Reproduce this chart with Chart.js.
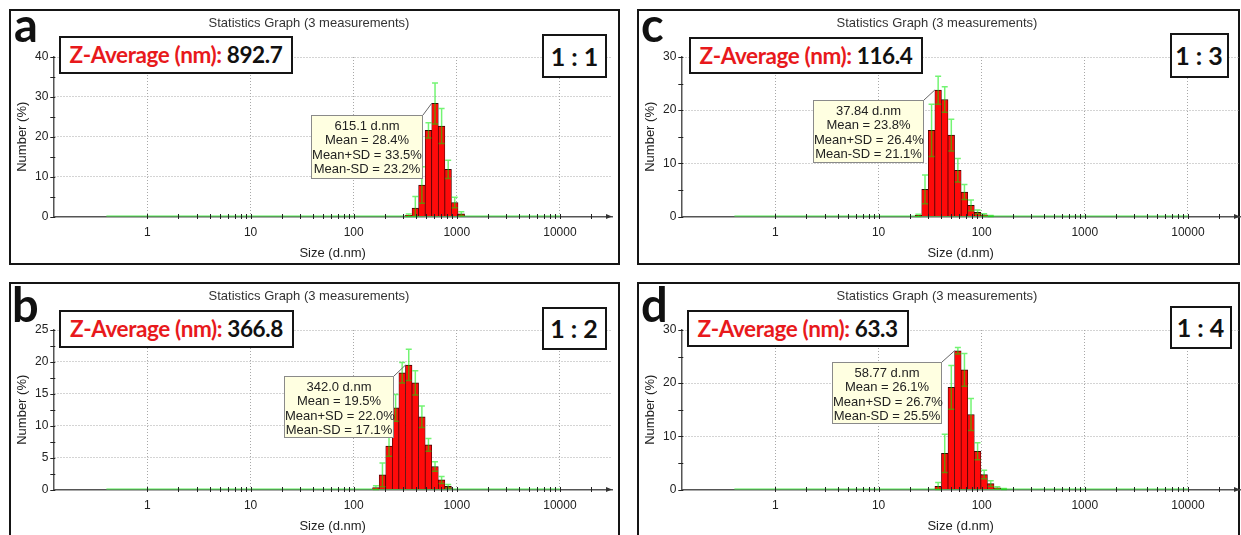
<!DOCTYPE html>
<html>
<head>
<meta charset="utf-8">
<script src="https://cdn.jsdelivr.net/npm/chart.js@4.4.1/dist/chart.umd.min.js"></script>
<style>
  body { margin:0; width:1241px; height:535px; overflow:hidden; background:#fff; position:relative; font-family:"Liberation Sans", Arial, sans-serif; }
  .frame { position:absolute; border:2px solid #151515; box-sizing:border-box; }
  canvas.plot { position:absolute; }
  .letter { position:absolute; font:bold 47px Lato, sans-serif; line-height:46px; color:#111; }
  .gtitle { position:absolute; font-size:13px; line-height:14px; color:#333; transform:translateX(-50%); white-space:nowrap; }
  .zbox { position:absolute; border:2px solid #151515; background:#fff; font:bold 22.5px Lato, sans-serif; letter-spacing:-0.4px; padding:0 9px; box-sizing:border-box; white-space:nowrap; color:#111; }
  .zbox .k { color:#e8191c; }
  .rbox { position:absolute; border:2px solid #151515; background:#fff; font:bold 25px Lato, sans-serif; box-sizing:border-box; text-align:center; white-space:nowrap; color:#111; }
  .note { position:absolute; background:#ffffe1; border:1px solid #8a8a8a; font-size:13px; line-height:14.5px; text-align:center; box-sizing:border-box; padding-top:2.5px; color:#222; white-space:nowrap; }
</style>
</head>
<body>
<script>
// size classes (d.nm) of the instrument, 0.4 .. 10000
const binSizes = [0.4, 0.4632, 0.5365, 0.6213, 0.7195, 0.8332, 0.9649, 1.117, 1.294, 1.499,
  1.736, 2.010, 2.328, 2.696, 3.122, 3.615, 4.187, 4.849, 5.615, 6.503, 7.531, 8.721,
  10.10, 11.70, 13.54, 15.69, 18.17, 21.04, 24.36, 28.21, 32.67, 37.84, 43.82, 50.75,
  58.77, 68.06, 78.82, 91.28, 105.7, 122.4, 141.8, 164.2, 190.1, 220.2, 255.0, 295.3,
  342.0, 396.1, 458.7, 531.2, 615.1, 712.4, 825.0, 955.4, 1106, 1281, 1484, 1718, 1990,
  2305, 2669, 3091, 3580, 4145, 4801, 5560, 6439, 7456, 8635, 10000];

// number distribution (%) and SD of the occupied classes, ratio 1:1
const sizeA = [342.0, 396.1, 458.7, 531.2, 615.1, 712.4, 825.0, 955.4, 1106];
const numA  = [0.3, 2.1, 7.9, 21.6, 28.4, 22.7, 11.8, 3.5, 0.7];
const sdA   = [0.3, 2.9, 4.6, 1.9, null, 4.4, 2.3, 1.3, 0.5];

// ratio 1:2
const sizeB = [164.2, 190.1, 220.2, 255.0, 295.3, 342.0, 396.1, 458.7, 531.2, 615.1, 712.4, 825.0];
const numB  = [0.3, 2.3, 6.8, 12.8, 18.3, 19.5, 16.7, 11.4, 7.0, 3.6, 1.5, 0.5];
const sdB   = [0.3, 1.85, 1.6, 2.1, 1.6, null, 1.9, 1.7, 1.0, 0.75, 0.55, 0.3];

// ratio 1:3
const sizeC = [24.36, 28.21, 32.67, 37.84, 43.82, 50.75, 58.77, 68.06, 78.82, 91.28, 105.7, 122.4];
const numC  = [0.2, 5.1, 16.2, 23.8, 22.0, 15.3, 8.7, 4.6, 2.1, 0.8, 0.3, 0.1];
const sdC   = [0.2, 2.7, 4.9, null, 2.4, 3.0, 2.2, 1.4, 1.0, 0.4, 0.2, 0.1];

// ratio 1:4
const sizeD = [37.84, 43.82, 50.75, 58.77, 68.06, 78.82, 91.28, 105.7, 122.4, 141.8, 164.2];
const numD  = [0.6, 6.8, 19.2, 26.1, 22.5, 14.1, 7.2, 2.8, 1.1, 0.3, 0.1];
const sdD   = [0.7, 3.6, 4.1, null, 3.1, 3.0, 1.6, 0.8, 0.55, 0.2, 0.1];

// per panel: a, b, c, d
const zAverage  = ['892.7', '366.8', '116.4', '63.3'];
const ratioText = ['1 : 1', '1 : 2', '1 : 3', '1 : 4'];
const yMaxes    = [40, 25, 30, 30];
const yMajor    = [10, 5, 10, 10];
const peakIdx   = [4, 5, 3, 3];
const peakHi    = [33.5, 22.0, 26.4, 26.7];
const peakLo    = [23.2, 17.1, 21.1, 25.5];

const decades = [1, 10, 100, 1000, 10000];
const X_MIN = 0.1222, X_MAX = 32000;

// tick marks along the size axis: 1..9 per decade, then 10000 and 20000
const xMarks = [];
[1, 10, 100, 1000].forEach(d => { for (let k = 1; k <= 9; k++) xMarks.push(k * d); });
xMarks.push(10000, 20000);

Chart.defaults.font.family = "'Liberation Sans', Arial, sans-serif";
Chart.defaults.font.size = 12;
Chart.defaults.color = '#222';

const panels = [
  { letter:'a', sizes:sizeA, nums:numA, sd:sdA, k:0, cx:10,  cy:10,  frame:[9,9,611,256],   letterPos:[14,1],   title:[309,16],
    zbox:[58.5,36,38], rbox:[542,34,65,44],   note:[311,115,112,64] },
  { letter:'b', sizes:sizeB, nums:numB, sd:sdB, k:1, cx:10,  cy:283, frame:[9,282,611,262], letterPos:[12,281], title:[309,289],
    zbox:[59,310,38],  rbox:[541.5,306.5,65,43.5], note:[284,376,110,62] },
  { letter:'c', sizes:sizeC, nums:numC, sd:sdC, k:2, cx:638, cy:10,  frame:[637,9,603,256], letterPos:[641,1],  title:[937,16],
    zbox:[688.5,37,37], rbox:[1169.5,33,59,45], note:[813,100,111,63] },
  { letter:'d', sizes:sizeD, nums:numD, sd:sdD, k:3, cx:638, cy:283, frame:[637,282,603,262], letterPos:[641,281], title:[937,289],
    zbox:[686.5,310,37], rbox:[1169.5,306,62,43], note:[832,362,110,62] },
];

function addDiv(cls, l, t, w, h, html) {
  const el = document.createElement('div');
  el.className = cls;
  el.style.left = l + 'px';
  el.style.top = t + 'px';
  if (w != null) el.style.width = w + 'px';
  if (h != null) { el.style.height = h + 'px'; }
  el.innerHTML = html;
  document.body.appendChild(el);
  return el;
}

// error bars, axis tick marks, arrow head and the callout leader
function makeDecor(p) {
  return {
    id: 'decor' + p.letter,
    afterDatasetsDraw(chart) {
      const { ctx, chartArea, scales: { x, y } } = chart;
      ctx.save();

      // mean +/- SD
      ctx.strokeStyle = 'rgba(0,235,0,0.55)';
      ctx.lineWidth = 1.5;
      p.sizes.forEach((s, i) => {
        let hi, lo;
        if (i === peakIdx[p.k]) { hi = peakHi[p.k]; lo = peakLo[p.k]; }
        else { hi = p.nums[i] + p.sd[i]; lo = Math.max(0, p.nums[i] - p.sd[i]); }
        const px = x.getPixelForValue(s);
        const yh = y.getPixelForValue(hi), yl = y.getPixelForValue(lo);
        ctx.beginPath();
        ctx.moveTo(px, yl); ctx.lineTo(px, yh);
        ctx.moveTo(px - 3, yh); ctx.lineTo(px + 3, yh);
        ctx.moveTo(px - 3, yl); ctx.lineTo(px + 3, yl);
        ctx.stroke();
      });

      // tick marks crossing both axes
      ctx.strokeStyle = '#222';
      ctx.lineWidth = 1;
      const yb = chartArea.bottom;
      xMarks.forEach(v => {
        const px = Math.round(x.getPixelForValue(v)) + 0.5;
        ctx.beginPath(); ctx.moveTo(px, yb - 2.5); ctx.lineTo(px, yb + 2.5); ctx.stroke();
      });
      y.ticks.forEach(t => {
        const py = Math.round(y.getPixelForValue(t.value)) + 0.5;
        ctx.beginPath(); ctx.moveTo(chartArea.left - 3, py); ctx.lineTo(chartArea.left + 2, py); ctx.stroke();
      });

      // arrow head at the end of the size axis
      ctx.fillStyle = '#333';
      ctx.beginPath();
      ctx.moveTo(chartArea.right, yb);
      ctx.lineTo(chartArea.right - 6, yb - 2.5);
      ctx.lineTo(chartArea.right - 6, yb + 2.5);
      ctx.closePath(); ctx.fill();

      // leader from the callout to the labelled bar
      const bar = chart.getDatasetMeta(0).data[peakIdx[p.k]];
      const nx = p.note[0] + p.note[2] - p.cx, ny = p.note[1] - p.cy;
      ctx.strokeStyle = '#666';
      ctx.lineWidth = 1;
      ctx.beginPath();
      ctx.moveTo(nx, ny);
      ctx.lineTo(bar.x - bar.width / 2, bar.y);
      ctx.stroke();
      ctx.restore();
    }
  };
}

panels.forEach(p => {
  const f = p.frame;
  addDiv('frame', f[0], f[1], f[2], f[3], '');

  const cv = document.createElement('canvas');
  cv.className = 'plot';
  cv.width = 603; cv.height = 255;
  cv.style.left = p.cx + 'px'; cv.style.top = p.cy + 'px';
  document.body.appendChild(cv);

  const k = p.k;
  const major = yMajor[k];

  new Chart(cv.getContext('2d'), {
    type: 'bar',
    data: {
      datasets: [
        {
          type: 'bar',
          data: p.sizes.map((s, i) => ({ x: s, y: p.nums[i] })),
          backgroundColor: '#ff0a0a',
          borderColor: '#3a0505',
          borderWidth: { top: 1, left: 0.7, right: 0.7, bottom: 0 },
          borderSkipped: false,
          barPercentage: 1,
          categoryPercentage: 1,
          order: 1
        },
        {
          type: 'line',
          data: binSizes.map(s => ({ x: s, y: 0 })),
          borderColor: '#55ee55',
          borderWidth: 2,
          pointRadius: 0,
          order: 2
        }
      ]
    },
    options: {
      responsive: false,
      animation: false,
      devicePixelRatio: 1,
      layout: { padding: { top: 47, right: 1, bottom: 0, left: 0 } },
      plugins: { legend: { display: false }, tooltip: { enabled: false } },
      scales: {
        x: {
          type: 'logarithmic',
          min: X_MIN, max: X_MAX,
          offset: false,
          afterBuildTicks: s => { s.ticks = decades.map(v => ({ value: v })); },
          afterFit: s => { s.height = 48.5; },
          ticks: { autoSkip: false, maxRotation: 0, padding: 9, callback: v => String(v) },
          grid: { offset: false, drawTicks: false, color: '#a8a8a8', lineWidth: 1 },
          border: { color: '#555', width: 1.5, dash: [1, 2] },
          title: { display: true, text: 'Size (d.nm)', color: '#222', font: { size: 13 }, padding: { top: 0, bottom: 3.9 } }
        },
        y: {
          type: 'linear',
          min: 0, max: yMaxes[k],
          afterFit: s => { s.width = 43.3; },
          ticks: {
            stepSize: major / 2, autoSkip: false, padding: 5,
            callback: v => (v % major === 0 ? String(v) : '')
          },
          grid: {
            drawTicks: false, lineWidth: 1,
            color: c => (c.tick && c.tick.value > 0 && c.tick.value % major === 0 ? '#a8a8a8' : 'rgba(0,0,0,0)')
          },
          border: { color: '#555', width: 1.5, dash: [1, 2] },
          title: { display: true, text: 'Number (%)', color: '#222', font: { size: 13 }, padding: { top: 4.9, bottom: 0 } }
        }
      }
    },
    plugins: [makeDecor(p)]
  });

  addDiv('letter', p.letterPos[0], p.letterPos[1], null, null, p.letter);
  addDiv('gtitle', p.title[0], p.title[1], null, null, 'Statistics Graph (3 measurements)');

  const z = addDiv('zbox', p.zbox[0], p.zbox[1], null, p.zbox[2],
    '<span class="k">Z-Average (nm):</span> ' + zAverage[k]);
  z.style.lineHeight = (p.zbox[2] - 4) + 'px';

  const r = addDiv('rbox', p.rbox[0], p.rbox[1], p.rbox[2], p.rbox[3], ratioText[k]);
  r.style.lineHeight = (p.rbox[3] - 4) + 'px';

  const s = p.sizes[peakIdx[k]];
  addDiv('note', p.note[0], p.note[1], p.note[2], p.note[3],
    s.toPrecision(4) + ' d.nm<br>Mean = ' + p.nums[peakIdx[k]].toFixed(1) + '%<br>Mean+SD = ' +
    peakHi[k].toFixed(1) + '%<br>Mean-SD = ' + peakLo[k].toFixed(1) + '%');
});
</script>
</body>
</html>
